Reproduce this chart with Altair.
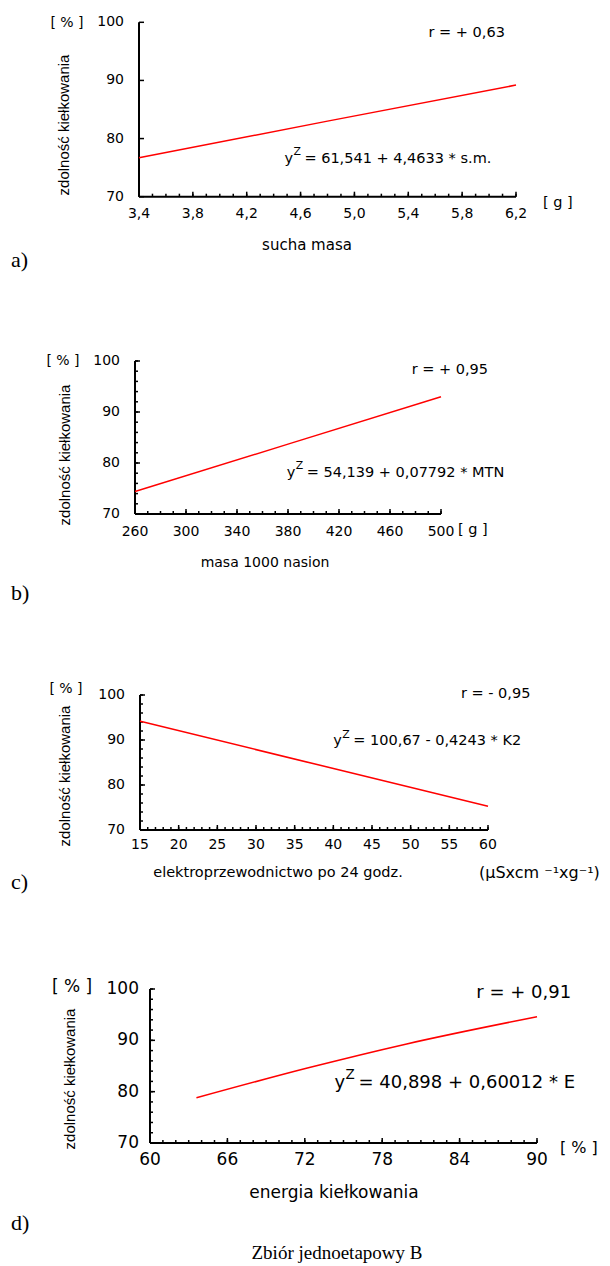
import altair as alt
import pandas as pd

# ---------------- data ----------------
a_x = [3.4, 4.8, 6.2]
a_y = [76.7, 83.0, 89.2]
b_x = [260, 380, 500]
b_y = [74.4, 83.7, 93.0]
c_x = [15, 37.5, 60]
c_y = [94.2, 84.7, 75.3]
d_x = [63.6, 72.2, 79.9, 90.0]
d_y = [78.8, 84.6, 89.3, 94.6]

y_ticks = [70, 80, 90, 100]
y_labels = ["70", "80", "90", "100"]

a_xticks = [3.4, 3.8, 4.2, 4.6, 5.0, 5.4, 5.8, 6.2]
a_xlabels = ["3,4", "3,8", "4,2", "4,6", "5,0", "5,4", "5,8", "6,2"]
a_xminor = [round(3.4 + 0.1 * i, 1) for i in range(29)]
b_xticks = [260, 300, 340, 380, 420, 460, 500]
b_xlabels = ["260", "300", "340", "380", "420", "460", "500"]
b_xminor = list(range(260, 501, 10))
c_xticks = [15, 20, 25, 30, 35, 40, 45, 50, 55, 60]
c_xlabels = [str(v) for v in c_xticks]
c_xminor = list(range(15, 61, 1))
d_xticks = [60, 66, 72, 78, 84, 90]
d_xlabels = [str(v) for v in d_xticks]
d_xminor = list(range(60, 91, 1))
y_minor2 = list(range(70, 101, 2))

Y_TITLE = "zdolność kiełkowania"

SANS = "Liberation Sans"
SERIF = "Liberation Serif"
WIDE = "DejaVu Sans"


def panel(p):
    xs = alt.Scale(domain=p["xdom"], range=p["xr"], nice=False, zero=False)
    ys = alt.Scale(domain=[70, 100], range=p["yr"], nice=False, zero=False)
    x0, x1 = p["xr"]
    yb, yt = p["yr"]
    font = p["font"]
    fs = p["fs"]
    afs = p["afs"]

    def X(f):
        return alt.X(f, type="quantitative", scale=xs, axis=None)

    def Y(f):
        return alt.Y(f, type="quantitative", scale=ys, axis=None)

    layers = []
    ax = pd.DataFrame({"x": [p["xdom"][0]], "x2": [p["xdom"][1]], "y": [70], "y2": [100]})
    layers.append(alt.Chart(ax).mark_rule(color="black", strokeWidth=2).encode(
        x=X("x"), x2=alt.X2("x2"), y=Y("y")))
    layers.append(alt.Chart(ax).mark_rule(color="black", strokeWidth=2).encode(
        x=X("x"), y=Y("y"), y2=alt.Y2("y2")))
    # x ticks (inward)
    layers.append(alt.Chart(pd.DataFrame({"v": p["xminor"]})).mark_rule(
        color="black", strokeWidth=1.5).encode(x=X("v"), y=alt.value(yb), y2=alt.value(yb - 3)))
    layers.append(alt.Chart(pd.DataFrame({"v": p["xticks"]})).mark_rule(
        color="black", strokeWidth=1.5).encode(x=X("v"), y=alt.value(yb), y2=alt.value(yb - 5)))
    # y ticks (inward)
    if p["yminor"]:
        layers.append(alt.Chart(pd.DataFrame({"v": p["yminor"]})).mark_rule(
            color="black", strokeWidth=1.5).encode(y=Y("v"), x=alt.value(x0), x2=alt.value(x0 + 3)))
    layers.append(alt.Chart(pd.DataFrame({"v": y_ticks})).mark_rule(
        color="black", strokeWidth=1.5).encode(y=Y("v"), x=alt.value(x0), x2=alt.value(x0 + 5)))
    # tick labels
    layers.append(alt.Chart(pd.DataFrame({"v": p["xticks"], "t": p["xlabels"]})).mark_text(
        font=font, fontSize=afs, align="center", baseline="middle", dy=p["xlab_dy"]).encode(
        x=X("v"), y=alt.value(yb), text="t"))
    layers.append(alt.Chart(pd.DataFrame({"v": y_ticks, "t": y_labels})).mark_text(
        font=font, fontSize=afs, align="right", baseline="middle", dx=-p["ylab_dx"]).encode(
        y=Y("v"), x=alt.value(x0), text="t"))
    # regression line
    layers.append(alt.Chart(pd.DataFrame({"x": p["lx"], "y": p["ly"]})).mark_line(
        color="#ff0000", strokeWidth=1.5, interpolate="monotone").encode(x=X("x"), y=Y("y")))
    # r annotation
    rx, ry, rt = p["r"]
    layers.append(alt.Chart(pd.DataFrame({"x": [rx], "y": [ry], "t": [rt]})).mark_text(
        font=font, fontSize=fs, align="left", baseline="middle").encode(x=X("x"), y=Y("y"), text="t"))
    # equation  y^Z = ...
    ex, ey, et = p["eq"]
    eqd = pd.DataFrame({"x": [ex], "y": [ey]})
    layers.append(alt.Chart(eqd).mark_text(font=font, fontSize=fs, align="left", baseline="middle",
                                           text="y").encode(x=X("x"), y=Y("y")))
    layers.append(alt.Chart(eqd).mark_text(font=font, fontSize=round(fs * 0.75, 1), align="left",
                                           baseline="middle", text="Z", dx=p["zdx"],
                                           dy=-round(fs * 0.45, 1)).encode(x=X("x"), y=Y("y")))
    layers.append(alt.Chart(eqd).mark_text(font=font, fontSize=fs, align="left", baseline="middle",
                                           text=et, dx=p["eqdx"]).encode(x=X("x"), y=Y("y")))
    # outside labels (pixel anchored)
    for (t, px, py, fnt, size, al, ang) in p["labels"]:
        layers.append(alt.Chart(pd.DataFrame({"t": [t]})).mark_text(
            font=fnt, fontSize=size, align=al, baseline="middle", angle=ang).encode(
            x=alt.value(px), y=alt.value(py), text="t"))
    return layers


panels = [
    dict(xdom=[3.4, 6.2], xr=[131, 508], yr=[188.7, 14.3], font=WIDE, fs=14.5, afs=14,
         xticks=a_xticks, xlabels=a_xlabels, xminor=a_xminor, yminor=[],
         xlab_dy=17, ylab_dx=15, lx=a_x, ly=a_y,
         r=(5.55, 98.1, "r = + 0,63"), eq=(4.48, 76.5, "= 61,541 + 4,4633 * s.m."),
         zdx=9, eqdx=20,
         labels=[("[ % ]", 59, 15, WIDE, 14, "center", 0),
                 (Y_TITLE, 56, 117, SANS, 15, "center", 270),
                 ("[ g ]", 535, 195, WIDE, 14.5, "left", 0),
                 ("sucha masa", 299, 237, WIDE, 15, "center", 0),
                 ("a)", 3, 252, SERIF, 22, "left", 0)]),
    dict(xdom=[260, 500], xr=[127, 433], yr=[506, 353], font=WIDE, fs=14.5, afs=14,
         xticks=b_xticks, xlabels=b_xlabels, xminor=b_xminor, yminor=y_minor2,
         xlab_dy=18, ylab_dx=15, lx=b_x, ly=b_y,
         r=(477, 98.2, "r =  + 0,95"), eq=(379, 78.1, "= 54,139 + 0,07792 * MTN"),
         zdx=9, eqdx=20,
         labels=[("[ % ]", 55, 353, WIDE, 14, "center", 0),
                 (Y_TITLE, 57, 447, SANS, 15, "center", 270),
                 ("[ g ]", 450, 522, WIDE, 14.5, "left", 0),
                 ("masa 1000 nasion", 257, 555, WIDE, 14, "center", 0),
                 ("b)", 3, 585, SERIF, 22, "left", 0)]),
    dict(xdom=[15, 60], xr=[132, 480], yr=[822, 687], font=WIDE, fs=14.5, afs=14,
         xticks=c_xticks, xlabels=c_xlabels, xminor=c_xminor, yminor=y_minor2,
         xlab_dy=15, ylab_dx=15, lx=c_x, ly=c_y,
         r=(56.5, 100.3, "r  = - 0,95"), eq=(40.0, 89.7, "= 100,67 - 0,4243 * K2"),
         zdx=9, eqdx=20,
         labels=[("[ % ]", 58, 681, WIDE, 14, "center", 0),
                 (Y_TITLE, 57, 768, SANS, 15, "center", 270),
                 ("elektroprzewodnictwo po 24 godz.", 270, 865, WIDE, 14.5, "center", 0),
                 ("(μSxcm ⁻¹xg⁻¹)", 471, 865, WIDE, 16, "left", 0),
                 ("c)", 3, 874, SERIF, 22, "left", 0)]),
    dict(xdom=[60, 90], xr=[142, 529], yr=[1135, 981], font=WIDE, fs=18, afs=17,
         xticks=d_xticks, xlabels=d_xlabels, xminor=d_xminor, yminor=y_minor2,
         xlab_dy=17, ylab_dx=11, lx=d_x, ly=d_y,
         r=(85.3, 99.2, "r =  + 0,91"), eq=(74.3, 81.7, "= 40,898 + 0,60012 * E"),
         zdx=11, eqdx=24,
         labels=[("[ % ]", 64, 979, WIDE, 17, "center", 0),
                 (Y_TITLE, 62, 1071, SANS, 15, "center", 270),
                 ("[ % ]", 552, 1140, WIDE, 16, "left", 0),
                 ("energia kiełkowania", 326, 1185, WIDE, 17, "center", 0),
                 ("d)", 3, 1215, SERIF, 22, "left", 0),
                 ("Zbiór jednoetapowy B", 329, 1245, SERIF, 19, "center", 0)]),
]

layers = []
for p in panels:
    layers += panel(p)

chart = alt.layer(*layers).resolve_scale(x="independent", y="independent").properties(
    width=594, height=1256, autosize=alt.AutoSizeParams(type="none"), padding=0,
    background="white"
).configure_view(stroke=None)

chart.save("out.html", embed_options={"renderer": "svg", "actions": False})
